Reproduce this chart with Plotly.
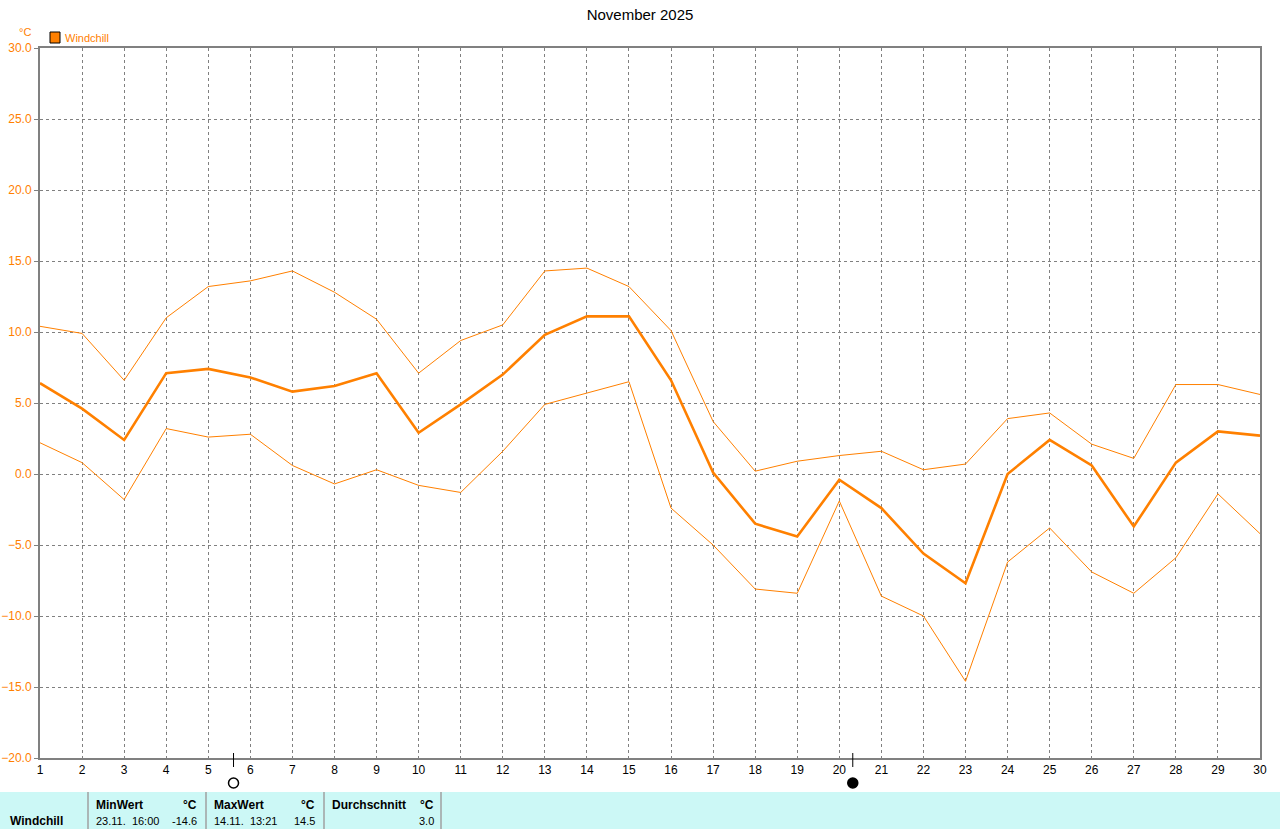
import plotly.graph_objects as go

days = list(range(1, 31))
wc_max = [10.4, 9.9, 6.6, 11.0, 13.2, 13.6, 14.3, 12.8, 10.9, 7.1,
          9.4, 10.5, 14.3, 14.5, 13.2, 10.1, 3.7, 0.2, 0.9, 1.3,
          1.6, 0.3, 0.7, 3.9, 4.3, 2.1, 1.1, 6.3, 6.3, 5.6]
wc_avg = [6.4, 4.6, 2.4, 7.1, 7.4, 6.8, 5.8, 6.2, 7.1, 2.9,
          4.9, 7.0, 9.8, 11.1, 11.1, 6.6, 0.1, -3.5, -4.4, -0.4,
          -2.4, -5.6, -7.7, 0.0, 2.4, 0.6, -3.7, 0.8, 3.0, 2.7]
wc_min = [2.2, 0.8, -1.8, 3.2, 2.6, 2.8, 0.6, -0.7, 0.3, -0.8,
          -1.3, 1.6, 4.9, 5.7, 6.5, -2.4, -5.0, -8.1, -8.4, -1.9,
          -8.6, -10.0, -14.6, -6.2, -3.8, -6.9, -8.4, -5.9, -1.4, -4.2]

moon_days = [5.6, 20.32]
moon_kind = ["full", "new"]

series_name = "Windchill"
unit = "°C"
stat_headers = ["MinWert", "MaxWert", "Durchschnitt"]
stat_times = ["23.11.  16:00", "14.11.  13:21", ""]
stat_values = ["-14.6", "14.5", "3.0"]

ORANGE = "#ff8000"
GRAY = "#808080"
FONT = "Liberation Sans, Arial, sans-serif"

W, H = 1280, 829
L, R, T, B = 40, 1260, 48, 758


def px(x):
    return (x - L) / (R - L)


def py(y):
    return (B - y) / (B - T)


fig = go.Figure()
fig.add_trace(go.Scatter(x=days, y=wc_max, mode="lines",
                         line=dict(color=ORANGE, width=1), hoverinfo="skip"))
fig.add_trace(go.Scatter(x=days, y=wc_min, mode="lines",
                         line=dict(color=ORANGE, width=1), hoverinfo="skip"))
fig.add_trace(go.Scatter(x=days, y=wc_avg, mode="lines",
                         line=dict(color=ORANGE, width=2.6), name=series_name))

shapes = []
annotations = []

# legend
shapes.append(dict(type="rect", xref="paper", yref="paper",
                   x0=px(50), x1=px(60), y0=py(43), y1=py(32),
                   fillcolor=ORANGE, line=dict(color="black", width=1)))
annotations.append(dict(xref="paper", yref="paper", x=px(63), y=py(38),
                        text=series_name, showarrow=False, xanchor="left",
                        yanchor="middle", font=dict(color=ORANGE, size=11, family=FONT)))
annotations.append(dict(xref="paper", yref="paper", x=px(25), y=py(32),
                        text=unit, showarrow=False, xanchor="center",
                        yanchor="middle", font=dict(color=ORANGE, size=11, family=FONT)))

# moon phases
for d, kind in zip(moon_days, moon_kind):
    shapes.append(dict(type="line", xref="x", yref="paper", x0=d, x1=d,
                       y0=py(753), y1=py(767), line=dict(color="black", width=1)))
    shapes.append(dict(type="circle", xref="x", yref="paper", xsizemode="pixel",
                       ysizemode="pixel", xanchor=d, yanchor=py(783),
                       x0=-5, x1=5, y0=-5, y1=5,
                       fillcolor="white" if kind == "full" else "black",
                       line=dict(color="black", width=1.5)))

# stats table
shapes.append(dict(type="rect", xref="paper", yref="paper",
                   x0=px(0), x1=px(1280), y0=py(829), y1=py(792),
                   fillcolor="#ccf8f6", line=dict(width=0), layer="below"))
for sx in [88, 206, 324, 441]:
    shapes.append(dict(type="line", xref="paper", yref="paper",
                       x0=px(sx), x1=px(sx), y0=py(829), y1=py(792),
                       line=dict(color="#a0a0a0", width=1.5)))

TF = dict(color="black", size=12, family=FONT)
TV = dict(color="black", size=11, family=FONT)
annotations.append(dict(xref="paper", yref="paper", x=px(8), y=py(821),
                        text="<b>" + series_name + "</b>", showarrow=False,
                        xanchor="left", yanchor="middle", font=TF))
col_left = [94, 212, 330]
col_right = [199, 317, 436]
for i in range(3):
    annotations.append(dict(xref="paper", yref="paper", x=px(col_left[i]), y=py(805),
                            text="<b>" + stat_headers[i] + "</b>", showarrow=False,
                            xanchor="left", yanchor="middle", font=TF))
    annotations.append(dict(xref="paper", yref="paper", x=px(col_right[i]), y=py(805),
                            text="<b>" + unit + "</b>", showarrow=False,
                            xanchor="right", yanchor="middle", font=TF))
    if stat_times[i]:
        annotations.append(dict(xref="paper", yref="paper", x=px(col_left[i]), y=py(821),
                                text=stat_times[i].replace(" ", "&nbsp;"), showarrow=False,
                                xanchor="left", yanchor="middle", font=TV))
    annotations.append(dict(xref="paper", yref="paper", x=px(col_right[i]), y=py(821),
                            text=stat_values[i], showarrow=False,
                            xanchor="right", yanchor="middle", font=TV))

fig.update_layout(
    width=W, height=H,
    margin=dict(l=L, r=W - R, t=T, b=H - B, pad=0, autoexpand=False),
    paper_bgcolor="white", plot_bgcolor="white",
    showlegend=False,
    title=dict(text="November 2025", x=0.5, xref="container", y=1 - 15 / H,
               yref="container", xanchor="center", yanchor="middle",
               font=dict(size=15, color="black", family=FONT)),
    shapes=shapes, annotations=annotations,
    font=dict(family=FONT, size=12),
)
fig.update_xaxes(range=[1, 30], tickmode="array", tickvals=days,
                 ticktext=[str(d) for d in days], automargin=False,
                 showgrid=True, gridcolor=GRAY, griddash="3px,3px", gridwidth=1,
                 showline=True, linecolor=GRAY, linewidth=2, mirror=True,
                 ticks="", tickfont=dict(color="black", size=12, family=FONT),
                 zeroline=False, fixedrange=True)
fig.update_yaxes(range=[-20, 30], dtick=5, tick0=-20, tickformat=".1f",
                 automargin=False,
                 showgrid=True, gridcolor=GRAY, griddash="3px,3px", gridwidth=1,
                 showline=True, linecolor=GRAY, linewidth=2, mirror=True,
                 ticks="outside", ticklen=4, tickcolor=GRAY,
                 tickfont=dict(color=ORANGE, size=12, family=FONT),
                 zeroline=False, fixedrange=True)

fig.write_html("out.html", config={"displayModeBar": False},
               post_script="document.body.style.margin='0';document.body.style.overflow='hidden';")
